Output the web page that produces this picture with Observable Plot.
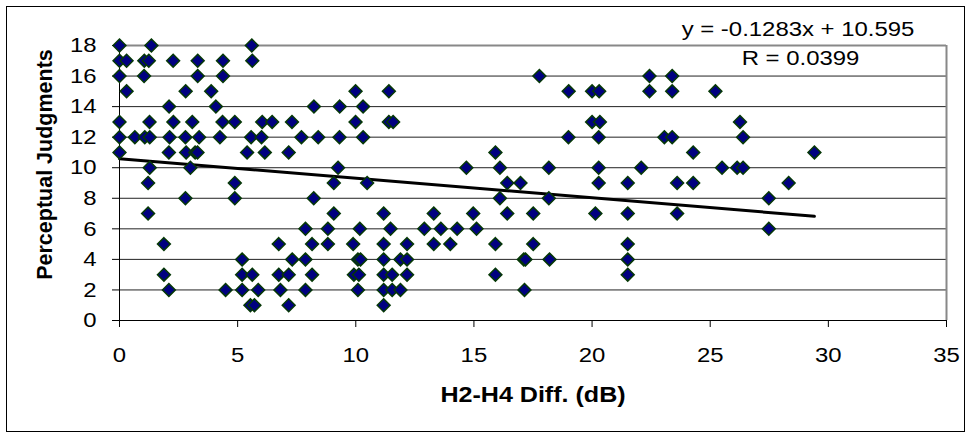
<!DOCTYPE html>
<html><head><meta charset="utf-8">
<script src="https://cdn.jsdelivr.net/npm/d3@7"></script>
<script src="https://cdn.jsdelivr.net/npm/@observablehq/plot@0.6"></script>
<style>body{margin:0;background:#fff} svg{display:block}</style>
</head><body><div id="chart"></div>
<script>
// Perceptual judgment levels and H2-H4 differences (dB) read at each level
const judgmentLevels = [18, 17, 16, 15, 14, 13, 12, 11, 10, 9, 8, 7, 6, 5, 4, 3, 2, 1];
const diffs18 = [0, 1.35, 5.6];
const diffs17 = [0, 0.3, 1.05, 1.24, 2.27, 3.31, 4.38, 5.62];
const diffs16 = [0, 1.04, 3.31, 4.38, 17.77, 22.43, 23.39];
const diffs15 = [0.3, 2.8, 3.88, 9.99, 11.4, 19.01, 20.0, 20.3, 22.43, 23.39, 25.22];
const diffs14 = [2.1, 4.08, 8.23, 9.32, 10.31];
const diffs13 = [0, 1.27, 2.28, 3.08, 4.36, 4.88, 6.04, 6.46, 7.3, 9.99, 11.4, 11.58, 20.0, 20.33, 26.26];
const diffs12 = [0, 0.65, 1.07, 1.28, 2.12, 2.79, 3.37, 4.25, 5.57, 6.01, 7.7, 8.41, 9.31, 10.31, 19.0, 20.28, 23.06, 23.39, 26.39];
const diffs11 = [0, 2.09, 2.82, 3.2, 3.3, 5.4, 6.15, 7.16, 15.91, 24.28, 29.41];
const diffs10 = [1.28, 3.0, 9.25, 14.68, 16.1, 18.17, 20.28, 22.08, 25.5, 26.14, 26.39];
const diffs9 = [1.21, 4.88, 9.07, 10.48, 16.41, 16.97, 20.28, 21.51, 23.6, 24.28, 28.32];
const diffs8 = [2.79, 4.88, 8.22, 16.1, 18.17, 27.48];
const diffs7 = [1.21, 9.07, 11.18, 13.3, 14.97, 16.41, 17.51, 20.14, 21.51, 23.6];
const diffs6 = [7.87, 8.82, 10.17, 11.47, 12.9, 13.6, 14.29, 15.11, 27.48];
const diffs5 = [1.88, 6.74, 8.15, 8.82, 9.89, 11.18, 12.17, 13.3, 14.0, 15.91, 17.51, 21.51];
const diffs4 = [5.19, 7.31, 7.87, 10.09, 10.2, 11.18, 11.89, 12.17, 17.11, 17.18, 18.2, 21.51];
const diffs3 = [1.88, 5.19, 5.62, 6.74, 7.16, 8.15, 9.92, 10.13, 11.18, 11.54, 12.17, 15.91, 21.51];
const diffs2 = [2.09, 4.49, 5.19, 5.87, 6.81, 7.87, 10.09, 11.18, 11.54, 11.89, 17.14];
const diffs1 = [5.54, 5.71, 7.16, 11.18];

const xTicks = [0, 5, 10, 15, 20, 25, 30, 35];
const yTicks = [0, 2, 4, 6, 8, 10, 12, 14, 16, 18];
const gridLevels = [2, 4, 6, 8, 10, 12, 14, 16];
const trendSlope = -0.1283;
const trendIntercept = 10.595;
const equationLabel = "y = -0.1283x + 10.595";
const rLabel = "R = 0.0399";
const xTitle = "H2-H4 Diff. (dB)";
const yTitle = "Perceptual Judgments";

const diffsByLevel = [diffs18, diffs17, diffs16, diffs15, diffs14, diffs13, diffs12, diffs11, diffs10,
  diffs9, diffs8, diffs7, diffs6, diffs5, diffs4, diffs3, diffs2, diffs1];
const points = judgmentLevels.flatMap((j, i) => diffsByLevel[i].map(d => ({diff: d, judgment: j})));
const [xMin, xMax] = d3.extent(points, d => d.diff);
const trend = [xMin, xMax].map(x => ({diff: x, judgment: trendIntercept + trendSlope * x}));

const squareDiamond = {
  draw(ctx, size) {
    const r = Math.sqrt(size) * 0.62625;
    ctx.moveTo(0, -r); ctx.lineTo(r, 0); ctx.lineTo(0, r); ctx.lineTo(-r, 0); ctx.closePath();
  }
};

const chart = Plot.plot({
  width: 972,
  height: 437,
  marginLeft: 119,
  marginRight: 26,
  marginTop: 45,
  marginBottom: 117,
  style: {fontFamily: "'Liberation Sans', Arial, sans-serif", fontSize: "21px", color: "#000", background: "#fff", overflow: "visible"},
  x: {domain: [0, 35]},
  y: {domain: [0, 18]},
  marks: [
    Plot.ruleY(gridLevels, {stroke: "#222", strokeWidth: 1}),
    Plot.ruleY([18], {stroke: "#888", strokeWidth: 2}),
    Plot.ruleX([35], {stroke: "#888", strokeWidth: 2}),
    Plot.ruleX([0], {stroke: "#000", strokeWidth: 1}),
    Plot.ruleY([0], {stroke: "#000", strokeWidth: 1}),
    Plot.axisX({ticks: xTicks, tickSize: 7, tickPadding: 20, label: null, stroke: "#000", fill: "#000", fontSize: 21}),
    Plot.axisY({ticks: yTicks, tickSize: 7, tickPadding: 16, label: null, stroke: "#000", fill: "#000", fontSize: 21}),
    Plot.line(trend, {x: "diff", y: "judgment", stroke: "#000", strokeWidth: 3}),
    Plot.dot(points, {x: "diff", y: "judgment", symbol: squareDiamond, r: 5.8, fill: "#000080", stroke: "#063806", strokeWidth: 1.5}),
    Plot.text([equationLabel], {text: d => d, frameAnchor: "top", textAnchor: "middle", lineAnchor: "middle", dx: 265, dy: -16.7, fontSize: 21, fill: "#000"}),
    Plot.text([rLabel], {text: d => d, frameAnchor: "top", textAnchor: "middle", lineAnchor: "middle", dx: 267.5, dy: 13, fontSize: 21, fill: "#000"}),
    Plot.text([xTitle], {text: d => d, frameAnchor: "bottom", textAnchor: "middle", lineAnchor: "middle", dx: 0, dy: 74.8, fontSize: 22, fontWeight: "bold", fill: "#000"}),
    Plot.text([yTitle], {text: d => d, frameAnchor: "left", textAnchor: "middle", lineAnchor: "middle", rotate: -90, dx: -74, dy: -18.5, fontSize: 21.5, fontWeight: "bold", fill: "#000"})
  ]
});

// horizontal stretch of upright texts, as in the reference rendering
const stretch = 1.14;
d3.select(chart).selectAll("text").each(function() {
  const t = this.getAttribute("transform");
  if (t && t.includes("rotate")) return;
  if (t) {
    this.setAttribute("transform", t + ` scale(${stretch},1)`);
  } else {
    const x = +(this.getAttribute("x") || 0);
    this.setAttribute("transform", `translate(${x},0) scale(${stretch},1) translate(${-x},0)`);
  }
});

// outer chart border
d3.select(chart).insert("rect", ":first-child")
  .attr("x", 6.5).attr("y", 6.5).attr("width", 958).attr("height", 425)
  .attr("fill", "none").attr("stroke", "#000").attr("stroke-width", 1);

document.getElementById("chart").appendChild(chart);
</script>
</body></html>
